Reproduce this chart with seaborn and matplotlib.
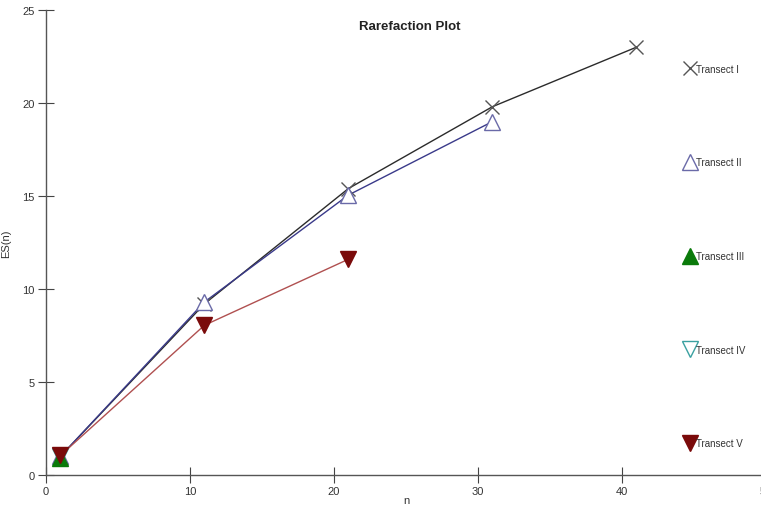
import matplotlib
matplotlib.use("Agg")
import matplotlib.pyplot as plt
import seaborn as sns
import pandas as pd
from matplotlib.lines import Line2D

# ---- data ----
n_I = [1, 11, 21, 31, 41]
es_I = [1.0, 9.2, 15.4, 19.8, 23.0]
n_II = [1, 11, 21, 31]
es_II = [1.0, 9.3, 15.05, 19.0]
n_III = [1]
es_III = [0.9]
n_IV = [1]
es_IV = [1.0]
n_V = [1, 11, 21]
es_V = [1.05, 8.05, 11.6]
labels = ["Transect I", "Transect II", "Transect III", "Transect IV", "Transect V"]
x_ticks = [0, 10, 20, 30, 40, 50]
y_ticks = [0, 5, 10, 15, 20, 25]

sns.set_theme(style="white")
plt.rcParams['font.family'] = ['Liberation Sans', 'DejaVu Sans']

fig = plt.figure(figsize=(7.61, 5.10), dpi=100)
ax = fig.add_axes([46/761, 1-476/510, (766-46)/761, (476-11)/510])

series = [
    (n_I, es_I, "#2b2b2b", dict(marker="x", color="#555555", mfc="none", ms=10, mew=1.0)),
    (n_II, es_II, "#3a3a8a", dict(marker="^", color="#6a6aa8", mfc="white", ms=11, mew=1.0)),
    (n_III, es_III, "#0a7a0a", dict(marker="^", color="#0a7a0a", mfc="#0a7a0a", ms=11, mew=1.0)),
    (n_IV, es_IV, "#3aa0a0", dict(marker="v", color="#3aa0a0", mfc="white", ms=11, mew=1.0)),
    (n_V, es_V, "#b05050", dict(marker="v", color="#7a0a0a", mfc="#7a0a0a", ms=11, mew=1.0)),
]

for i in [0, 1, 4]:
    xs, ys, lc, mk = series[i]
    df = pd.DataFrame({"n": xs, "es": ys})
    sns.lineplot(data=df, x="n", y="es", ax=ax, color=lc, linewidth=1.0, legend=False)

for i in [0, 1, 3, 2, 4]:
    xs, ys, lc, mk = series[i]
    ax.plot(xs, ys, linestyle="none", marker=mk["marker"], color=mk["color"],
            markerfacecolor=mk["mfc"], markeredgecolor=mk["color"], markersize=mk["ms"],
            markeredgewidth=mk["mew"], zorder=5, clip_on=False)

ax.set_xlim(0, 50)
ax.set_ylim(0, 25)
ax.set_xticks(x_ticks)
ax.set_yticks(y_ticks)
ax.tick_params(axis="both", direction="inout", length=12, width=0.8, color="#444444",
               labelsize=8, labelcolor="#333333", bottom=True, left=True)
ax.tick_params(axis="x", pad=2)
ax.tick_params(axis="y", pad=2)
for s in ["top", "right"]:
    ax.spines[s].set_visible(False)
for s in ["left", "bottom"]:
    ax.spines[s].set_color("#555555")
    ax.spines[s].set_linewidth(1.0)
ax.set_facecolor("white")

ax.set_xlabel("n", fontsize=8, color="#333333", labelpad=-1)
ax.set_ylabel("ES(n)", fontsize=8, color="#333333", labelpad=8)
fig.text(410/761, 1-27/510, "Rarefaction Plot", ha="center", va="center",
         fontsize=9.5, fontweight="bold", color="#222222")

handles = []
for i in range(5):
    xs, ys, lc, mk = series[i]
    handles.append(Line2D([], [], linestyle="none", marker=mk["marker"], color=mk["color"],
                          markerfacecolor=mk["mfc"], markeredgecolor=mk["color"],
                          markersize=mk["ms"], markeredgewidth=mk["mew"]))
leg = fig.legend(handles, labels, loc="upper left", bbox_to_anchor=(680/761, 1-60/510),
                 frameon=False, fontsize=7, labelspacing=8.6, handlelength=1.0,
                 handletextpad=0.1, borderpad=0)
for t in leg.get_texts():
    t.set_color("#333333")

fig.savefig("out.png", dpi=100, facecolor="white")
